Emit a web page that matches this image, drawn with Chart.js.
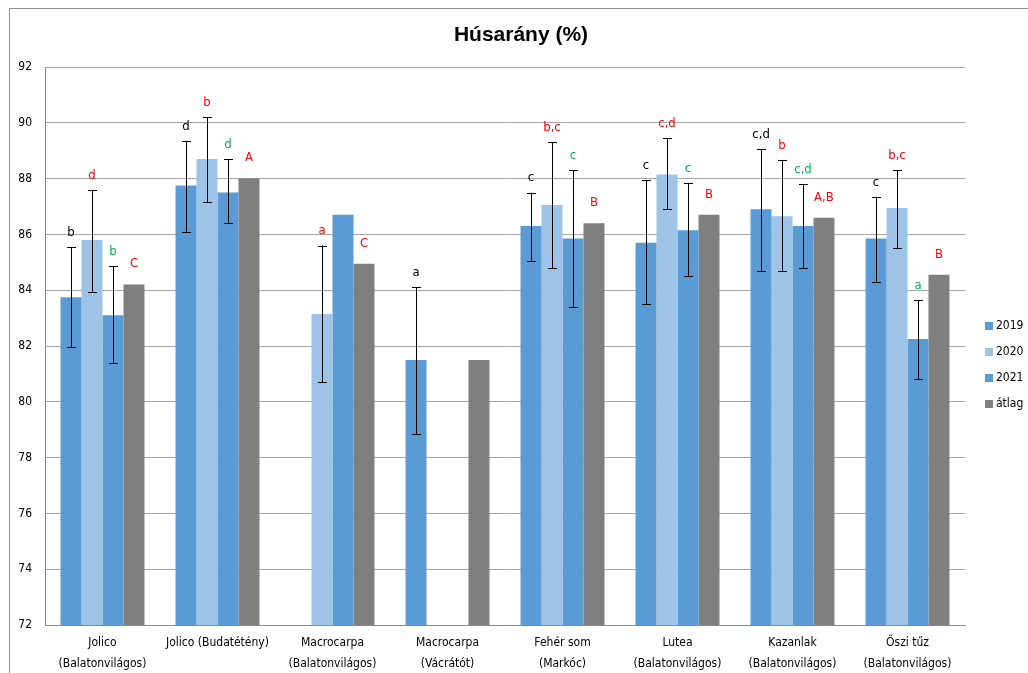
<!DOCTYPE html>
<html>
<head>
<meta charset="utf-8">
<script src="https://cdn.jsdelivr.net/npm/chart.js@4.4.1/dist/chart.umd.min.js"></script>
<style>
    html, body { margin: 0; padding: 0; background: #fff; }
    #wrap { width: 1028px; height: 673px; }
</style>
</head>
<body>
<div id="wrap"><canvas id="husChart" width="1028" height="673"></canvas></div>
<script>
// categories and series
const categories = [
    ["Jolico", "(Balatonvilágos)"],
    "Jolico (Budatétény)",
    ["Macrocarpa", "(Balatonvilágos)"],
    ["Macrocarpa", "(Vácrátót)"],
    ["Fehér som", "(Markóc)"],
    ["Lutea", "(Balatonvilágos)"],
    ["Kazanlak", "(Balatonvilágos)"],
    ["Őszi tűz", "(Balatonvilágos)"]
];
const seriesNames = ["2019", "2020", "2021", "átlag"];
const chartTitle = "Húsarány (%)";

const values2019 = [83.75, 87.75, null, 81.5, 86.3, 85.7, 86.9, 85.85];
const values2020 = [85.8, 88.7, 83.15, null, 87.05, 88.15, 86.65, 86.95];
const values2021 = [83.1, 87.5, 86.7, null, 85.85, 86.15, 86.3, 82.25];
const valuesAvg = [84.2, 88.0, 84.95, 81.5, 86.4, 86.7, 86.6, 84.55];

// error bar ends [low, high]
const err2019 = [[81.95, 85.55], [86.1, 89.35], null, [78.85, 84.1], [85.05, 87.5], [83.5, 87.95], [84.7, 89.05], [84.3, 87.35]];
const err2020 = [[83.95, 87.6], [87.15, 90.2], [80.7, 85.6], null, [84.8, 89.3], [86.9, 89.45], [84.7, 88.65], [85.5, 88.3]];
const err2021 = [[81.4, 84.85], [86.4, 88.7], null, null, [83.4, 88.3], [84.5, 87.85], [84.8, 87.8], [80.8, 83.65]];
const errAvg = [null, null, null, null, null, null, null, null];

// significance letters
const letters2019 = ["b", "d", "", "a", "c", "c", "c,d", "c"];
const letters2020 = ["d", "b", "a", "", "b,c", "c,d", "b", "b,c"];
const letters2021 = ["b", "d", "", "", "c", "c", "c,d", "a"];
const lettersAvg = ["C", "A", "C", "", "B", "B", "A,B", "B"];

const yTicks = [72, 74, 76, 78, 80, 82, 84, 86, 88, 90, 92];

const errors = [err2019, err2020, err2021, errAvg];
const letters = [letters2019, letters2020, letters2021, lettersAvg];
const letterColors = ["#000000", "#ff0000", "#00b050", "#ff0000"];
const barColors = ["#5b9bd5", "#9dc3e6", "#5b9bd5", "#7f7f7f"];

const FONT = "'DejaVu Sans Condensed', 'Liberation Sans', Arial, sans-serif";

const errorBarPlugin = {
    id: "errorBars",
    afterDatasetsDraw(chart) {
        const ctx = chart.ctx;
        const yScale = chart.scales.y;
        ctx.save();
        chart.data.datasets.forEach((ds, i) => {
            const meta = chart.getDatasetMeta(i);
            meta.data.forEach((bar, j) => {
                if (ds.data[j] == null) return;
                const e = errors[i][j];
                let topY = bar.y;
                if (e) {
                    const yl = yScale.getPixelForValue(e[0]);
                    const yh = yScale.getPixelForValue(e[1]);
                    ctx.strokeStyle = "#000";
                    ctx.lineWidth = 1;
                    ctx.beginPath();
                    ctx.moveTo(Math.round(bar.x) + 0.5, yl);
                    ctx.lineTo(Math.round(bar.x) + 0.5, yh);
                    ctx.moveTo(bar.x - 4, Math.round(yl) + 0.5);
                    ctx.lineTo(bar.x + 5, Math.round(yl) + 0.5);
                    ctx.moveTo(bar.x - 4, Math.round(yh) + 0.5);
                    ctx.lineTo(bar.x + 5, Math.round(yh) + 0.5);
                    ctx.stroke();
                    topY = yh;
                }
                const txt = letters[i][j];
                if (txt) {
                    ctx.fillStyle = letterColors[i];
                    ctx.font = "13px " + FONT;
                    ctx.textAlign = "center";
                    ctx.textBaseline = "bottom";
                    ctx.fillText(txt, bar.x, topY - (e ? 8 : 14));
                }
            });
        });
        ctx.restore();
    }
};

const framePlugin = {
    id: "frame",
    afterDraw(chart) {
        const ctx = chart.ctx;
        ctx.save();
        ctx.strokeStyle = "#8c8c8c";
        ctx.lineWidth = 1;
        ctx.strokeRect(9.5, 8.5, 1100, 700);
        // title
        ctx.fillStyle = "#000";
        ctx.font = "bold 21px Arial, 'Liberation Sans', sans-serif";
        ctx.textAlign = "center";
        ctx.textBaseline = "middle";
        ctx.fillText(chartTitle, 521, 35);
        // legend
        const lx = 985, ly0 = 326, step = 26;
        ctx.font = "12px " + FONT;
        ctx.textAlign = "left";
        seriesNames.forEach((name, i) => {
            const y = ly0 + i * step;
            ctx.fillStyle = barColors[i];
            ctx.fillRect(lx, y - 4, 8, 8);
            ctx.fillStyle = "#000";
            ctx.fillText(name, lx + 11, y);
        });
        ctx.restore();
    }
};

new Chart(document.getElementById("husChart"), {
    type: "bar",
    data: {
        labels: categories,
        datasets: seriesNames.map((name, i) => ({
            label: name,
            data: [values2019, values2020, values2021, valuesAvg][i],
            backgroundColor: barColors[i],
            borderWidth: 0,
            categoryPercentage: 0.73,
            barPercentage: 1.0
        }))
    },
    options: {
        responsive: false,
        animation: false,
        layout: { padding: { left: 0, right: 63, top: 67, bottom: 0 } },
        plugins: {
            legend: { display: false },
            tooltip: { enabled: false },
            title: { display: false }
        },
        scales: {
            x: {
                grid: { display: false },
                border: { display: true, color: "#8c8c8c" },
                ticks: {
                    color: "#000",
                    font: { family: FONT, size: 12, lineHeight: 1.7 },
                    maxRotation: 0,
                    autoSkip: false,
                    padding: 0
                },
                afterFit(scale) { scale.height = 48; }
            },
            y: {
                min: 72,
                max: 92,
                afterBuildTicks(scale) { scale.ticks = yTicks.map(v => ({ value: v })); },
                grid: { color: "#a6a6a6", drawTicks: false },
                border: { display: true, color: "#8c8c8c" },
                ticks: {
                    color: "#000",
                    font: { family: FONT, size: 12 },
                    padding: 13
                },
                afterFit(scale) { scale.width = 45; }
            }
        }
    },
    plugins: [errorBarPlugin, framePlugin]
});
</script>
</body>
</html>
